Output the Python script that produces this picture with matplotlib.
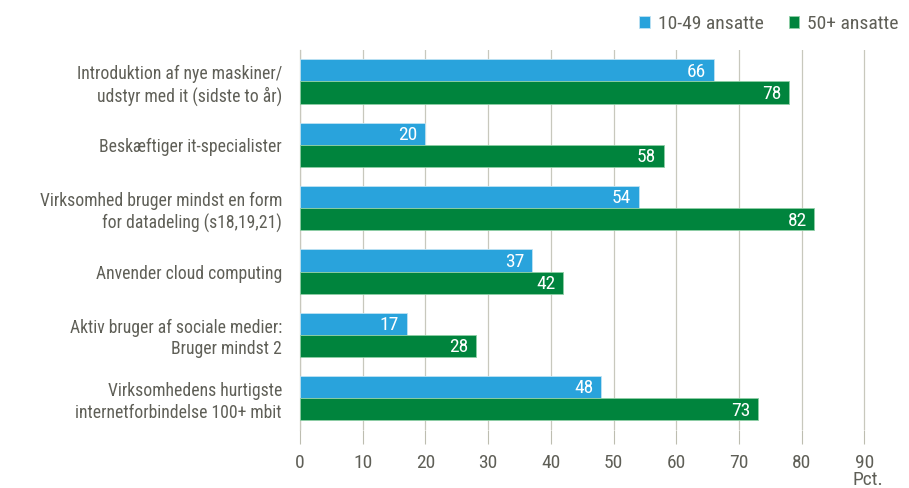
import numpy as np
import matplotlib.pyplot as plt
from matplotlib import font_manager

names = set(f.name for f in font_manager.fontManager.ttflist)
if 'Roboto Condensed' in names:
    plt.rcParams['font.family'] = ['Roboto Condensed', 'DejaVu Sans']
else:
    plt.rcParams['font.family'] = ['Roboto', 'DejaVu Sans']

categories = [
    "Introduktion af nye maskiner/\nudstyr med it (sidste to år)",
    "Beskæftiger it-specialister",
    "Virksomhed bruger mindst en form\nfor datadeling (s18,19,21)",
    "Anvender cloud computing",
    "Aktiv bruger af sociale medier:\nBruger mindst 2",
    "Virksomhedens hurtigste\ninternetforbindelse 100+ mbit",
]
small = [66, 20, 54, 37, 17, 48]
large = [78, 58, 82, 42, 28, 73]
series_names = ["10-49 ansatte", "50+ ansatte"]
ticks = [0, 10, 20, 30, 40, 50, 60, 70, 80, 90]

blue = "#29a3dc"
green = "#00843d"
txt = "#5f5f57"

fig = plt.figure(figsize=(9.09, 4.88), dpi=100)
ax = fig.add_axes([0.330, 0.119, 0.623, 0.779])

y = np.arange(len(categories))
h = 0.35
b1 = ax.barh(y - h / 2, small, height=h, color=blue, edgecolor="#bfe3f4", linewidth=0.6,
             label=series_names[0], zorder=3)
b2 = ax.barh(y + h / 2, large, height=h, color=green, edgecolor="#8fcfa6", linewidth=0.6,
             label=series_names[1], zorder=3)
for bars in (b1, b2):
    for r in bars:
        ax.text(r.get_width() - 1.2, r.get_y() + r.get_height() / 2 + 0.02, str(int(r.get_width())),
                ha="right", va="center", color="white", fontsize=14, zorder=4)

ax.set_ylim(len(categories) - 0.5, -0.5)
ax.set_xlim(0, 90.3)
ax.set_yticks(y)
ax.set_yticklabels(categories, fontsize=12.7, color=txt, ha="right", linespacing=1.25)
ax.tick_params(axis="y", length=0, pad=13)
ax.set_xticks(ticks)
ax.set_xticklabels([str(t) for t in ticks], fontsize=14, color=txt)
ax.tick_params(axis="x", length=10, width=0.8, color="#bdbdb0", pad=7)
ax.grid(axis="x", color="#c8c8bd", linewidth=0.9, zorder=0)
for s in ["top", "right", "bottom"]:
    ax.spines[s].set_visible(False)
ax.spines["left"].set_color("#c8c8bd")
ax.spines["left"].set_linewidth(0.9)

fig.text(852 / 909, 1 - 471 / 488, "Pct.", ha="left", va="top", fontsize=14, color=txt)

leg = fig.legend(handles=[b1, b2], labels=series_names, loc="upper right",
                 bbox_to_anchor=(1.008, 1.005), ncol=2, frameon=False, fontsize=14,
                 handlelength=0.55, handleheight=0.55, handletextpad=0.4, columnspacing=1.3)
for t in leg.get_texts():
    t.set_color(txt)

fig.savefig("out.png", dpi=100)
